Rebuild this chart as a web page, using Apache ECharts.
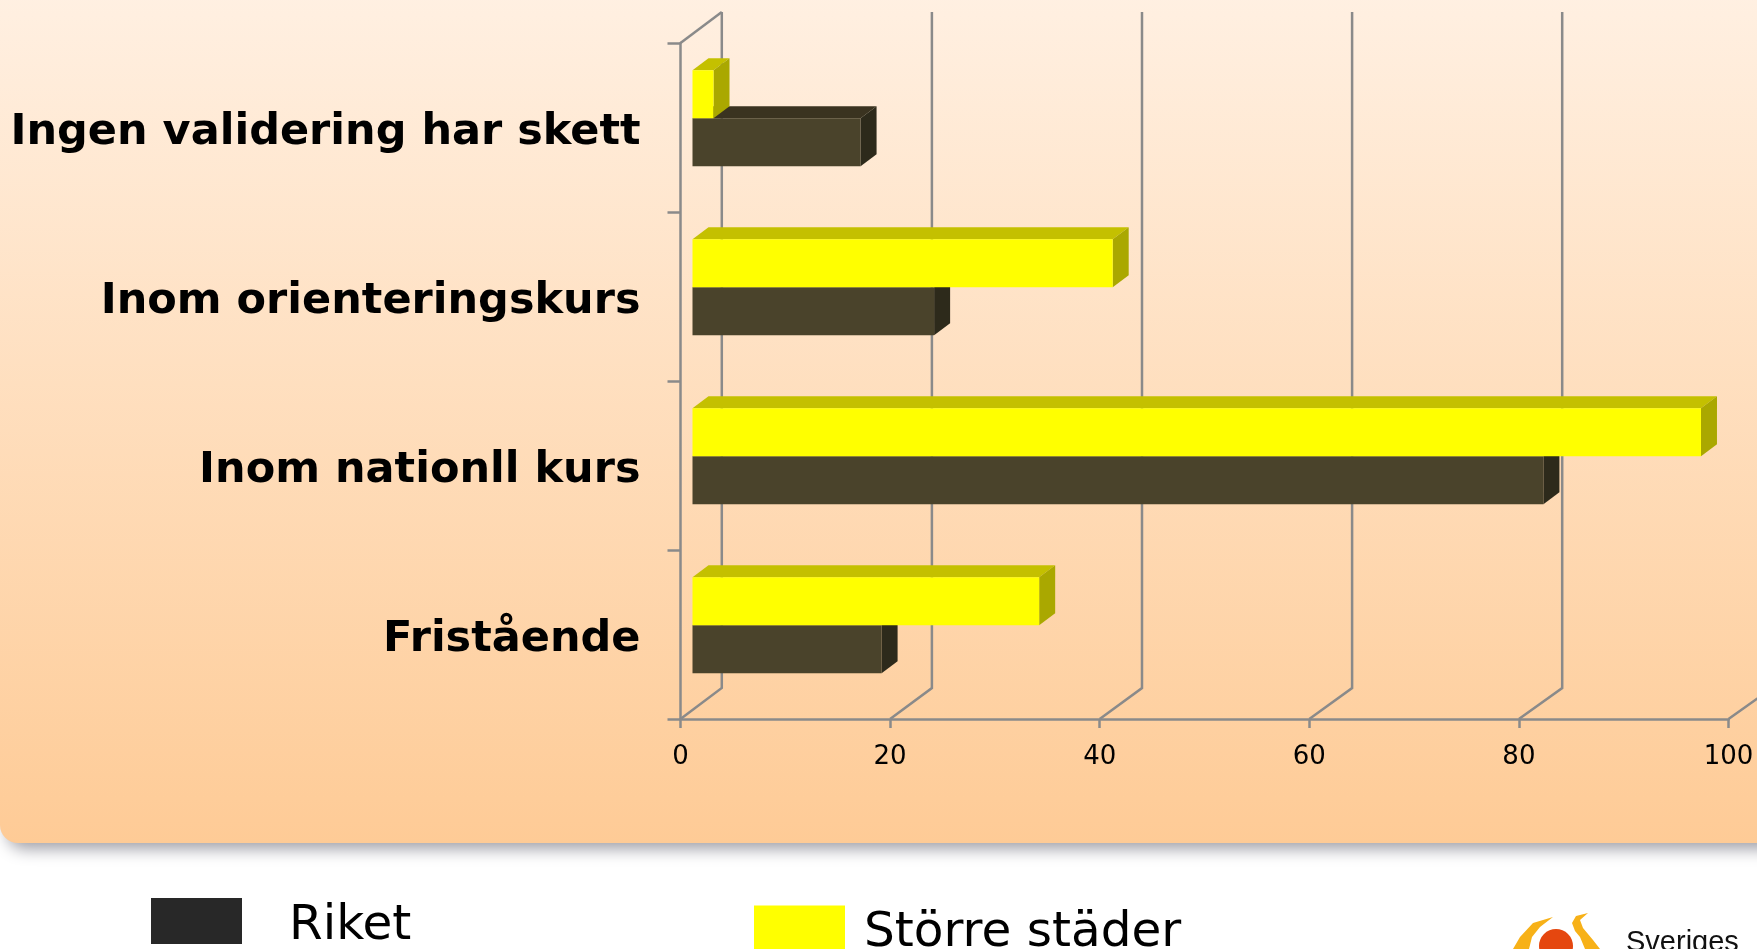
<!DOCTYPE html>
<html><head><meta charset="utf-8">
<style>html,body{margin:0;padding:0;background:#fff;overflow:hidden}#c{width:1757px;height:949px}</style>
<script src="https://cdn.jsdelivr.net/npm/echarts@6/dist/echarts.min.js"></script>
</head><body><div id="c"></div>
<script>
const categories = ['Fristående', 'Inom nationll kurs', 'Inom orienteringskurs', 'Ingen validering har skett'];
const riket = [18, 81, 23, 16];
const storreStader = [33, 96, 40, 2];
const xTicks = [0, 20, 40, 60, 80, 100];

const FONT = '"DejaVu Sans"';
const AXIS = '#8a8a8a';
const chart = echarts.init(document.getElementById('c'));

function bar3d(front, top, side, slot) {
  return function (params, api) {
    const v = api.value(0), c = api.value(1);
    const p0 = api.coord([0, c]), p = api.coord([v, c]);
    const h = 48, dx = 16, dy = 12;
    const x0 = p0[0] + 12, x1 = p[0] + 12 + v * 0.025;
    const y0 = p[1] - 9.2 - (slot === 0 ? h : 0);
    const y1 = y0 + h;
    return { type: 'group', children: [
      { type: 'polygon', shape: { points: [[x0, y0], [x0 + dx, y0 - dy], [x1 + dx, y0 - dy], [x1, y0]] }, style: { fill: top } },
      { type: 'polygon', shape: { points: [[x1, y0], [x1 + dx, y0 - dy], [x1 + dx, y1 - dy], [x1, y1]] }, style: { fill: side } },
      { type: 'rect', shape: { x: x0, y: y0, width: x1 - x0, height: h }, style: { fill: front } }
    ] };
  };
}
function wallItem(params, api) {
  const v = api.value(0);
  const band = api.size([0, 1])[1];
  const x = api.coord([v, 0])[0];
  const yb = api.coord([v, 0])[1] + band / 2, yt = api.coord([v, categories.length - 1])[1] - band / 2;
  const off = 41.3 + v * 0.025;
  const line = { fill: null, stroke: AXIS, lineWidth: 2.5 };
  const kids = [{ type: 'polyline', shape: { points: [[x, yb], [x + off, yb - 31], [x + off, yt - 31]] }, style: line }];
  if (v === 0) kids.push({ type: 'polyline', shape: { points: [[x, yt], [x + off, yt - 31]] }, style: line });
  return { type: 'group', children: kids };
}

chart.setOption({
  animation: false,
  backgroundColor: '#ffffff',
  graphic: [
    { type: 'rect', z: -10, silent: true,
      shape: { x: 0, y: -30, width: 1830, height: 873, r: [0, 0, 0, 18] },
      style: {
        fill: new echarts.graphic.LinearGradient(0, 0, 0, 1, [{ offset: 0, color: '#fff1e4' }, { offset: 1, color: '#fecb96' }]),
        shadowBlur: 16, shadowColor: 'rgba(80,80,95,0.55)', shadowOffsetX: 7, shadowOffsetY: 6
      } },
    { type: 'polygon', silent: true, shape: { points: [[1553,917],[1533,923],[1520,937],[1513,949],[1529,949],[1532,937],[1540,927]] }, style: { fill: '#f7b118' } },
    { type: 'polygon', silent: true, shape: { points: [[1588,913],[1576,916],[1572,923],[1575,931],[1580,937],[1585,949],[1600,949],[1593,940],[1583,928],[1580,920]] }, style: { fill: '#f7b118' } },
    { type: 'circle', silent: true, shape: { cx: 1556, cy: 946, r: 17 }, style: { fill: '#e5470f' } },
    { type: 'text', silent: true, x: 1626, y: 928, style: { text: 'Sveriges', font: '29px "Liberation Sans"', fill: '#111', verticalAlign: 'top', align: 'left' } }
  ],
  grid: { left: 680.5, top: 43, width: 1048, height: 676, containLabel: false },
  xAxis: {
    type: 'value', min: 0, max: 100, interval: 20,
    axisLine: { show: true, lineStyle: { color: AXIS, width: 2.5 } },
    axisTick: { show: true, length: 9, lineStyle: { color: AXIS, width: 2.5 } },
    axisLabel: { fontFamily: FONT, fontSize: 26, color: '#000', margin: 25 },
    splitLine: { show: false }
  },
  yAxis: {
    type: 'category', data: categories,
    axisLine: { show: true, onZero: false, lineStyle: { color: AXIS, width: 2.5 } },
    axisTick: { show: true, length: 13, lineStyle: { color: AXIS, width: 2.5 } },
    axisLabel: { fontFamily: FONT, fontSize: 43, fontWeight: 'bold', color: '#000', margin: 40, lineHeight: 11, verticalAlign: 'top' }
  },
  legend: [
    { left: 146, top: 893, itemWidth: 91, itemHeight: 46, data: [{ name: 'Riket', icon: 'rect', itemStyle: { color: '#282828' } }],
      selectedMode: false, formatter: n => '{a|' + n + '}',
      textStyle: { rich: { a: { fontFamily: FONT, fontSize: 48.5, color: '#000', padding: [10, 0, 0, 42] } } } },
    { left: 749, top: 900.5, itemWidth: 91, itemHeight: 46, data: [{ name: 'Större städer', icon: 'rect', itemStyle: { color: '#ffff00' } }],
      selectedMode: false, formatter: n => '{a|' + n + '}',
      textStyle: { rich: { a: { fontFamily: FONT, fontSize: 48.5, color: '#000', padding: [10, 0, 0, 14] } } } }
  ],
  series: [
    { type: 'custom', name: 'walls', silent: true, z: 1, clip: false, renderItem: wallItem,
      encode: { x: 0 }, data: xTicks.map(t => [t]) },
    { type: 'custom', name: 'Riket', z: 3, clip: false, renderItem: bar3d('#4a432b', '#3a3320', '#2d2a1b', 1),
      encode: { x: 0, y: 1 }, data: riket.map((v, i) => [v, i]) },
    { type: 'custom', name: 'Större städer', z: 4, clip: false, renderItem: bar3d('#ffff00', '#c4c000', '#aaa800', 0),
      encode: { x: 0, y: 1 }, data: storreStader.map((v, i) => [v, i]) }
  ]
});
</script></body></html>
